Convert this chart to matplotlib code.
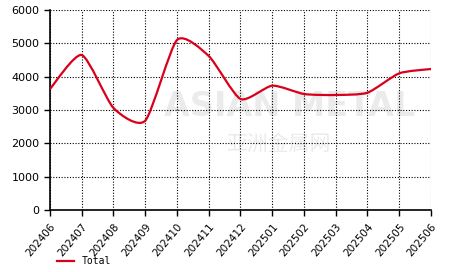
import numpy as np
import matplotlib.pyplot as plt
from matplotlib.path import Path
from matplotlib.patches import PathPatch
from matplotlib.lines import Line2D

months = ['202406', '202407', '202408', '202409', '202410', '202411', '202412',
          '202501', '202502', '202503', '202504', '202505', '202506']
total = [3630, 4650, 3060, 2680, 5100, 4620, 3330, 3730, 3480, 3450, 3520, 4100, 4230]

red = '#d9001b'

fig = plt.figure(figsize=(4.66, 2.72), dpi=100)
ax = fig.add_axes([50 / 466, 62 / 272, 381 / 466, 200 / 272])

# smooth curve through the points, short bezier handles
x = np.arange(len(months), dtype=float)
y = np.array(total, dtype=float)
k = 0.11
verts = [(x[0], y[0])]
codes = [Path.MOVETO]
for i in range(len(x) - 1):
    p0 = (x[i - 1], y[i - 1]) if i > 0 else (x[i], y[i])
    p1 = (x[i], y[i])
    p2 = (x[i + 1], y[i + 1])
    p3 = (x[i + 2], y[i + 2]) if i + 2 < len(x) else (x[i + 1], y[i + 1])
    c1 = (p1[0] + (p2[0] - p0[0]) * k, p1[1] + (p2[1] - p0[1]) * k)
    c2 = (p2[0] - (p3[0] - p1[0]) * k, p2[1] - (p3[1] - p1[1]) * k)
    verts += [c1, c2, p2]
    codes += [Path.CURVE4] * 3
ax.add_patch(PathPatch(Path(verts, codes), facecolor='none', edgecolor=red, lw=1.6, zorder=3))

# watermark
ax.text(0.63, 0.52, 'ASIAN METAL', transform=ax.transAxes, fontsize=24, fontweight='bold',
        color='#ebebeb', ha='center', va='center', zorder=1)
ax.text(0.60, 0.33, '亚洲金属网', transform=ax.transAxes, fontsize=15,
        family=['Noto Sans CJK SC', 'DejaVu Sans'], color='#ebebeb', ha='center', va='center', zorder=1)

ax.set_xlim(0, len(months) - 1)
ax.set_ylim(0, 6000)
ax.set_yticks(range(0, 6001, 1000))
ax.set_xticks(x)
ax.set_xticklabels(months, rotation=50, ha='right', rotation_mode='anchor', fontsize=7.5)
ax.tick_params(axis='y', labelsize=8, length=4, width=1)
ax.tick_params(axis='x', length=4, width=1, pad=4)
ax.grid(True, color='black', linestyle=(0, (1, 1.5)), linewidth=0.8)
for s in ['top', 'right']:
    ax.spines[s].set_visible(False)
for s in ['left', 'bottom']:
    ax.spines[s].set_linewidth(1.2)

handle = Line2D([], [], color=red, lw=1.6)
fig.legend([handle], ['Total'], loc='lower left', bbox_to_anchor=(48 / 466, -0.01),
           frameon=False, prop={'family': 'monospace', 'size': 7}, handlelength=1.8)

fig.savefig('out.png', dpi=100)
